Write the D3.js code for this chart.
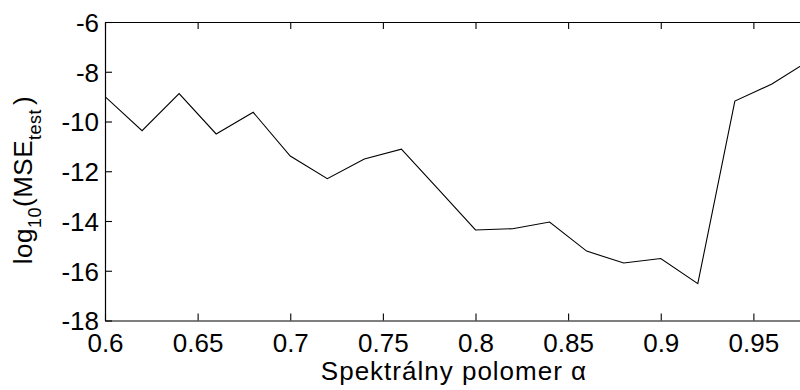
<!DOCTYPE html>
<meta charset="utf-8">
<script src="https://d3js.org/d3.v7.min.js"></script>
<style>
  body { margin: 0; background: #fff; }
  svg text { font-family: "Liberation Sans", Arial, sans-serif; fill: #000; }
</style>
<body>
<div id="chart"></div>
<script>
// data
var alpha = [0.60, 0.62, 0.64, 0.66, 0.68, 0.70, 0.72, 0.74, 0.76, 0.78, 0.80,
             0.82, 0.84, 0.86, 0.88, 0.90, 0.92, 0.94, 0.96, 0.98];
var logMse = [-9.00, -10.37, -8.88, -10.50, -9.63, -11.39, -12.30, -11.51, -11.11, -12.73, -14.36,
              -14.31, -14.04, -15.21, -15.69, -15.51, -16.52, -9.18, -8.49, -7.56];
var xTicks = [0.6, 0.65, 0.7, 0.75, 0.8, 0.85, 0.9, 0.95];
var yTicks = [-6, -8, -10, -12, -14, -16, -18];

var W = 800, H = 390;
// the right edge of the axes box lies outside the picture
var pLeft = 105, pTop = 22, pBottom = 320.5, pRight = 846;

var svg = d3.select("#chart").append("svg")
  .attr("width", W).attr("height", H);

var x = d3.scaleLinear().domain([0.6, 1.0]).range([pLeft, pRight]);
var y = d3.scaleLinear().domain([-18, -6]).range([pBottom, pTop]);

svg.append("defs").append("clipPath").attr("id", "clip")
  .append("rect").attr("x", pLeft).attr("y", pTop)
  .attr("width", pRight - pLeft).attr("height", pBottom - pTop);

// line
var line = d3.line()
  .x(function(d, i) { return x(alpha[i]); })
  .y(function(d) { return y(d); });

svg.append("path")
  .datum(logMse)
  .attr("clip-path", "url(#clip)")
  .attr("fill", "none")
  .attr("stroke", "#000")
  .attr("stroke-width", 1.1)
  .attr("d", line);

// axes (box, ticks inside)
function styleAxis(g) {
  g.select(".domain").attr("stroke", "#000").attr("stroke-width", 1.2);
  g.selectAll(".tick line").attr("stroke", "#000").attr("stroke-width", 1.1);
  g.selectAll(".tick text").style("font-size", "26px").attr("fill", "#000");
}

svg.append("g")
  .attr("transform", "translate(0," + pBottom + ")")
  .call(d3.axisBottom(x).tickValues(xTicks).tickSize(-7).tickSizeOuter(0)
    .tickFormat(function(d) { return String(+d.toFixed(2)); }))
  .call(styleAxis)
  .selectAll(".tick text").attr("y", 13).attr("dy", "0.71em");

svg.append("g")
  .attr("transform", "translate(0," + pTop + ")")
  .call(d3.axisTop(x).tickValues(xTicks).tickSize(-7).tickSizeOuter(0).tickFormat(""))
  .call(styleAxis);

svg.append("g")
  .attr("transform", "translate(" + pLeft + ",0)")
  .call(d3.axisLeft(y).tickValues(yTicks).tickSize(-7).tickSizeOuter(0)
    .tickFormat(function(d) { return String(d); }))
  .call(styleAxis)
  .selectAll(".tick text").attr("x", -6).attr("dy", "0.36em");

svg.append("g")
  .attr("transform", "translate(" + pRight + ",0)")
  .call(d3.axisRight(y).tickValues(yTicks).tickSize(-7).tickSizeOuter(0).tickFormat(""))
  .call(styleAxis);

// axis labels
svg.append("text")
  .attr("x", 454).attr("y", 380)
  .attr("text-anchor", "middle")
  .style("font-size", "26px")
  .style("letter-spacing", "1px")
  .text("Spektrálny polomer α");

var yl = svg.append("text")
  .attr("transform", "translate(32,180) rotate(-90)")
  .attr("text-anchor", "middle")
  .style("font-size", "26px")
  .style("letter-spacing", "0.5px");
yl.append("tspan").text("log");
yl.append("tspan").attr("dy", 9).style("font-size", "18px").text("10");
yl.append("tspan").attr("dy", -9).text("(MSE");
yl.append("tspan").attr("dy", 9).style("font-size", "18px").text("test");
yl.append("tspan").attr("dy", -9).attr("dx", 4).text(")");
</script>
</body>
